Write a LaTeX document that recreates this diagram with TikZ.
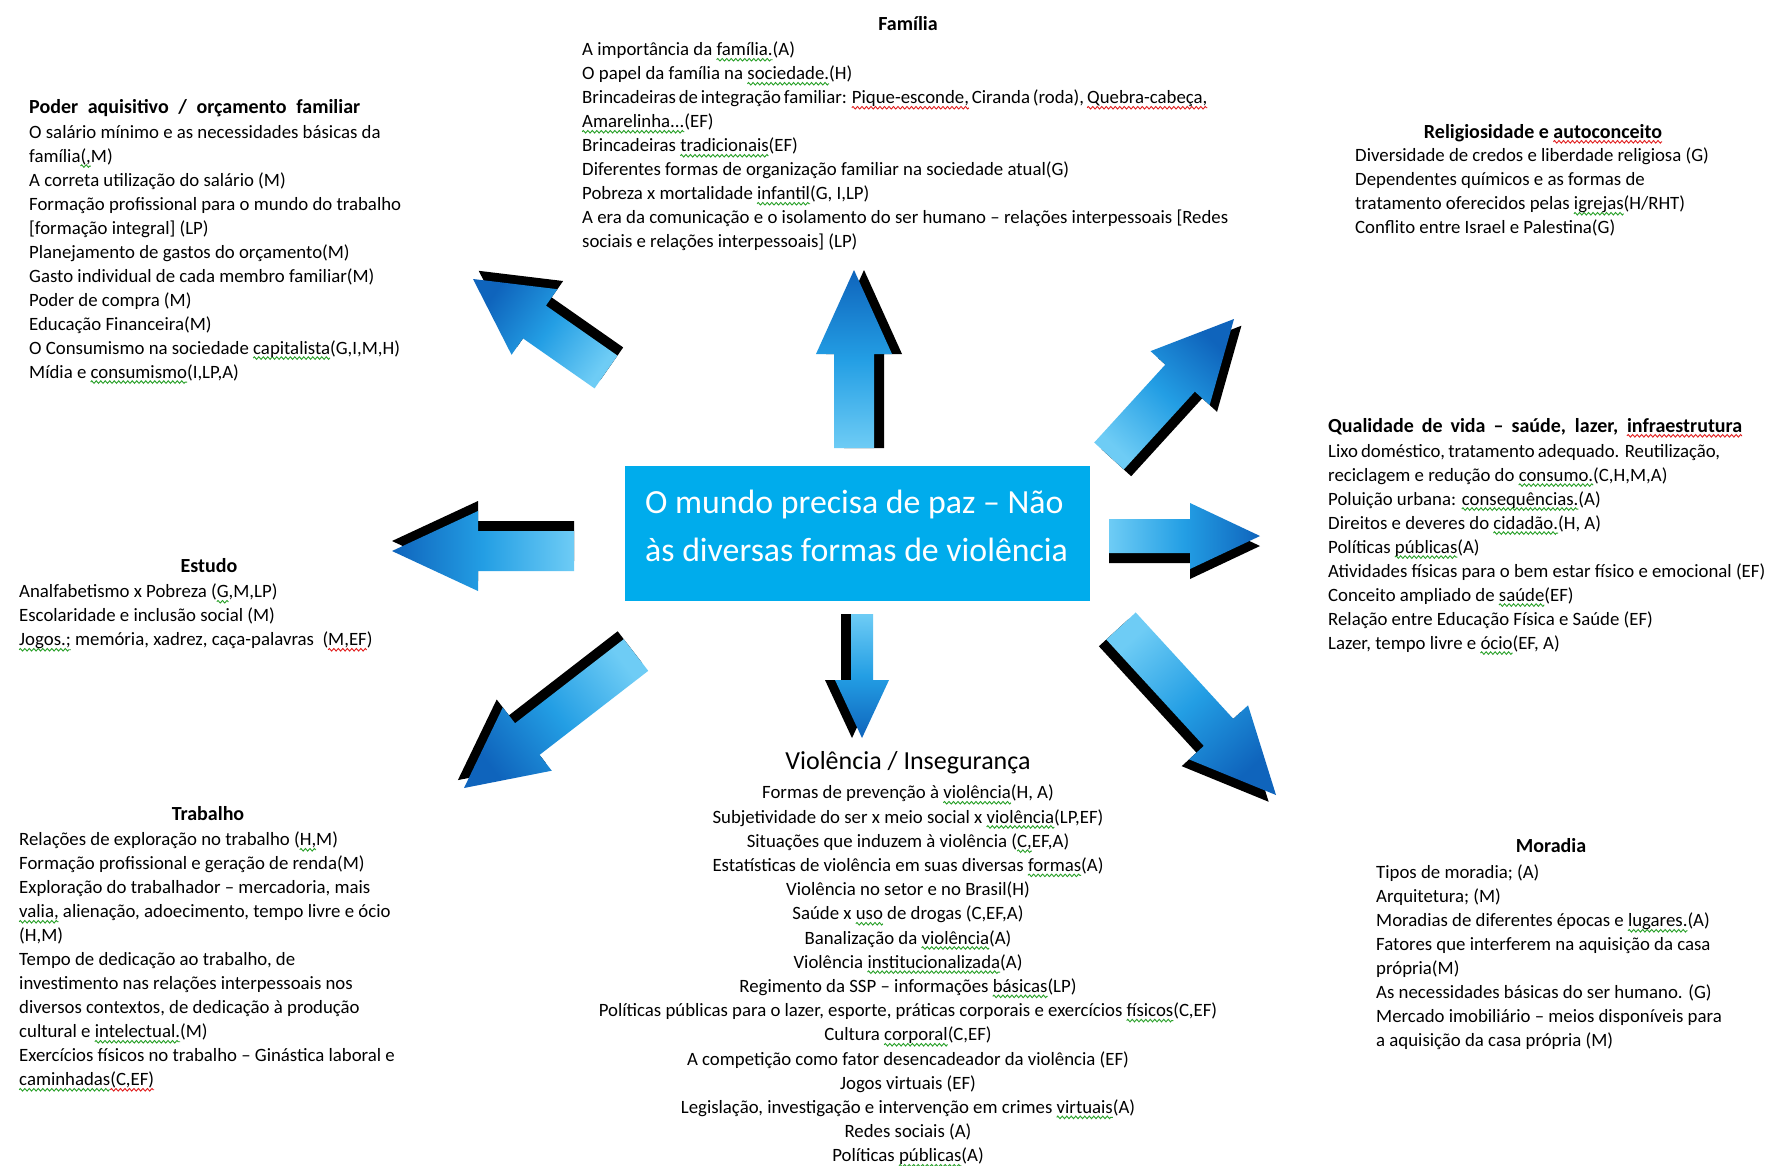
\documentclass[tikz,border=0pt]{standalone}
\usepackage{fontspec}
\setmainfont{Carlito}
\usetikzlibrary{calc,decorations.pathmorphing}
\definecolor{hubblue}{RGB}{0,172,236}
\definecolor{arrdark}{RGB}{15,100,188}
\definecolor{arrmid}{RGB}{35,158,228}
\definecolor{arrlight}{RGB}{110,204,245}
\definecolor{sqgreen}{RGB}{40,160,40}
\definecolor{sqred}{RGB}{225,30,30}
\newsavebox\sqbox
\newlength\sqlen
\newcommand\sqmark[2]{\sbox\sqbox{#2}\setlength\sqlen{\wd\sqbox}%
  \rlap{\tikz[baseline=0pt,x=1pt,y=1pt]{\useasboundingbox (0pt,0pt);
    \draw[#1,line width=0.9pt,decorate,decoration={zigzag,segment length=4.5pt,amplitude=1.3pt}] (0pt,-3.8pt) -- (\sqlen,-3.8pt);}}%
  \usebox\sqbox}
\newcommand\gsq[1]{\sqmark{sqgreen}{#1}}
\newcommand\rsq[1]{\sqmark{sqred}{#1}}
% #1 style, #2 tail, #3 tip, #4 shaft half width, #5 head half width, #6 head length
\newcommand\arrowpoly[6]{%
  \path ($(#3)!#6pt!(#2)$) coordinate (nk);
  \path[#1] ($(#2)!#4pt!90:(#3)$) -- ($(nk)!#4pt!-90:(#2)$) -- ($(nk)!#5pt!-90:(#2)$)
     -- (#3) -- ($(nk)!#5pt!90:(#2)$) -- ($(nk)!#4pt!90:(#2)$) -- ($(#2)!#4pt!-90:(#3)$) -- cycle;}
% #1 tail, #2 tip, #3 w, #4 h, #5 hl, #6 shading angle, #7 side of black extrusion (90/-90)
\newcommand\bluearrow[7]{%
  \path ($(#1)!10pt!#7:(#2)$) coordinate (st);
  \path ($(#2)+(st)-(#1)$) coordinate (sp);
  \arrowpoly{fill=black}{st}{sp}{#3}{#4}{#5}
  \arrowpoly{top color=arrlight, bottom color=arrdark, middle color=arrmid, shading angle=#6}{#1}{#2}{#3}{#4}{#5}}
\tikzset{
  bodytxt/.style={anchor=north west, inner sep=0pt, align=left, font=\fontsize{18.8}{24}\selectfont},
  bodyctr/.style={anchor=north, inner sep=0pt, align=center, font=\fontsize{18.8}{24.2}\selectfont},
  ttl/.style={inner sep=0pt, font=\fontsize{20}{24}\selectfont\bfseries},
  hubbox/.style={fill=hubblue, minimum width=465pt, minimum height=135pt, inner sep=0pt},
  hubtxt/.style={text=white, inner sep=0pt, align=left, font=\fontsize{33.8}{48}\selectfont},
}
\begin{document}
\begin{tikzpicture}[x=1pt,y=-1pt]
\useasboundingbox[fill=white] (0,0) rectangle (1766,1165);

% central box
\node[hubbox] (hub) at (857.5,533.5) {};
\node[hubtxt, anchor=west] (hubtext) at (645,526) {O mundo precisa de paz – Não\\às diversas formas de violência};

% arrows
\coordinate (upT) at (854,448);   \coordinate (upH) at (854,270);
\coordinate (ulT) at (606,372);   \coordinate (ulH) at (473,279);
\coordinate (urT) at (1109,456);  \coordinate (urH) at (1234,319);
\coordinate (lfT) at (574,551);   \coordinate (lfH) at (392,551);
\coordinate (rtT) at (1109,536);  \coordinate (rtH) at (1260,536);
\coordinate (dnT) at (862,614);   \coordinate (dnH) at (862,738);
\coordinate (llT) at (636,655);   \coordinate (llH) at (464,788);
\coordinate (lrT) at (1121,626);  \coordinate (lrH) at (1276,795);
\bluearrow{upT}{upH}{20}{38}{84}{180}{-90}
\bluearrow{ulT}{ulH}{20}{40}{75}{234.6}{-90}
\bluearrow{urT}{urH}{20}{40}{80}{137.2}{-90}
\bluearrow{lfT}{lfH}{20}{40}{86}{270}{-90}
\bluearrow{rtT}{rtH}{17}{33}{70}{90}{-90}
\bluearrow{dnT}{dnH}{11}{27}{58}{0}{-90}
\bluearrow{llT}{llH}{20}{40}{80}{-52.2}{-90}
\bluearrow{lrT}{lrH}{20}{40}{85}{42.5}{-90}

% Familia
\node[ttl, anchor=base] (famT) at (908,30) {Família};
\node[bodytxt] (famB) at (582,42) {A importância da \gsq{família.}(A)\\
O papel da família na \gsq{sociedade.}(H)\\
\makebox[625pt][s]{Brincadeiras de integração familiar: \rsq{Pique-esconde,} Ciranda (roda), \rsq{Quebra-cabeça,}}\\
\gsq{Amarelinha...}(EF)\\
Brincadeiras \gsq{tradicionais}(EF)\\
Diferentes formas de organização familiar na sociedade atual(G)\\
Pobreza x mortalidade \gsq{infantil}(G, I,LP)\\
\makebox[646pt][s]{A era da comunicação e o isolamento do ser humano – relações interpessoais [Redes}\\
sociais e relações interpessoais] (LP)};

% Poder aquisitivo
\node[ttl, anchor=base west] (podT) at (29,113) {\makebox[331pt][s]{Poder aquisitivo / orçamento familiar}};
\node[bodytxt] (podB) at (29,125) {O salário mínimo e as necessidades básicas da\\
família\gsq{(,}M)\\
A correta utilização do salário (M)\\
Formação profissional para o mundo do trabalho\\
{[}formação integral] (LP)\\
Planejamento de gastos do orçamento(M)\\
Gasto individual de cada membro familiar(M)\\
Poder de compra (M)\\
Educação Financeira(M)\\
O Consumismo na sociedade \gsq{capitalista}(G,I,M,H)\\
Mídia e \gsq{consumismo}(I,LP,A)};

% Religiosidade
\node[ttl, anchor=base] (relT) at (1543,138) {Religiosidade e \rsq{autoconceito}};
\node[bodytxt] (relB) at (1355,148) {Diversidade de credos e liberdade religiosa (G)\\
Dependentes químicos e as formas de\\
tratamento oferecidos pelas \gsq{igrejas}(H/RHT)\\
Conflito entre Israel e Palestina(G)};

% Qualidade de vida
\node[ttl, anchor=base west] (qvT) at (1328,432) {\makebox[414pt][s]{Qualidade de vida – saúde, lazer, \rsq{infraestrutura}}};
\node[bodytxt] (qvB) at (1328,444) {\makebox[392pt][s]{Lixo doméstico, tratamento adequado. Reutilização,}\\
reciclagem e redução do \gsq{consumo.}(C,H,M,A)\\
Poluição urbana: \gsq{consequências.}(A)\\
Direitos e deveres do \gsq{cidadão.}(H, A)\\
Políticas \gsq{públicas}(A)\\
Atividades físicas para o bem estar físico e emocional (EF)\\
Conceito ampliado de \gsq{saúde}(EF)\\
Relação entre Educação Física e Saúde (EF)\\
Lazer, tempo livre e \gsq{ócio}(EF, A)};

% Estudo
\node[ttl, anchor=base] (estT) at (209,572) {Estudo};
\node[bodytxt] (estB) at (19,584) {Analfabetismo x Pobreza (\gsq{G},M,LP)\\
Escolaridade e inclusão social (M)\\
\gsq{Jogos.;} memória, xadrez, caça-palavras\ \ (\rsq{M,EF})};

% Trabalho
\node[ttl, anchor=base] (trbT) at (208,820) {Trabalho};
\node[bodytxt] (trbB) at (19,832) {Relações de exploração no trabalho (\gsq{H,}M)\\
Formação profissional e geração de renda(M)\\
Exploração do trabalhador – mercadoria, mais\\
\gsq{valia,} alienação, adoecimento, tempo livre e ócio\\
(H,M)\\
Tempo de dedicação ao trabalho, de\\
investimento nas relações interpessoais nos\\
diversos contextos, de dedicação à produção\\
cultural e \gsq{intelectual.}(M)\\
Exercícios físicos no trabalho – Ginástica laboral e\\
\gsq{caminhadas}\rsq{(C,EF)}};

% Moradia
\node[ttl, anchor=base] (morT) at (1551,852) {Moradia};
\node[bodytxt] (morB) at (1376,865) {Tipos de moradia; (A)\\
Arquitetura; (M)\\
Moradias de diferentes épocas e \gsq{lugares.}(A)\\
Fatores que interferem na aquisição da casa\\
própria(M)\\
As necessidades básicas do ser humano. (G)\\
Mercado imobiliário – meios disponíveis para\\
a aquisição da casa própria (M)};

% Violencia
\node[inner sep=0pt, anchor=base, font=\fontsize{26}{30}\selectfont] (vioT) at (908,769) {Violência / Insegurança};
\node[bodyctr] (vioB) at (908,785) {Formas de prevenção à \gsq{violência}(H, A)\\
Subjetividade do ser x meio social x \gsq{violência}(LP,EF)\\
Situações que induzem à violência (\gsq{C,}EF,A)\\
Estatísticas de violência em suas diversas \gsq{formas}(A)\\
Violência no setor e no Brasil(H)\\
Saúde x \gsq{uso} de drogas (C,EF,A)\\
Banalização da \gsq{violência}(A)\\
Violência \gsq{institucionalizada}(A)\\
Regimento da SSP – informações \gsq{básicas}(LP)\\
Políticas públicas para o lazer, esporte, práticas corporais e exercícios \gsq{físicos}(C,EF)\\
Cultura \gsq{corporal}(C,EF)\\
A competição como fator desencadeador da violência (EF)\\
Jogos virtuais (EF)\\
Legislação, investigação e intervenção em crimes \gsq{virtuais}(A)\\
Redes sociais (A)\\
Políticas \gsq{públicas}(A)};
\end{tikzpicture}
\end{document}
